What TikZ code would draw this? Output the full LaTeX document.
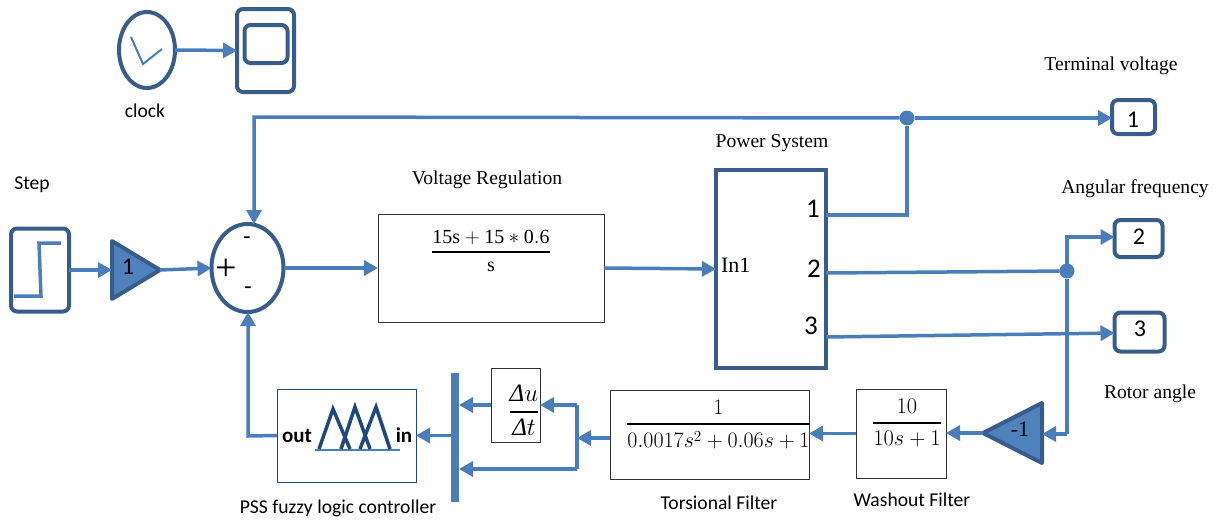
\documentclass[tikz,border=0pt]{standalone}
\usepackage{amsmath}
\usepackage{fontspec}
\setmainfont{Liberation Serif}
\newfontfamily\carlito{Carlito}
\usetikzlibrary{arrows.meta,shapes.geometric}
\definecolor{wire}{HTML}{4A7EBB}
\definecolor{edgeblue}{HTML}{385D8A}
\definecolor{fillblue}{HTML}{4F81BD}
\definecolor{fuzzy}{HTML}{1F497D}
\newcommand{\tffrac}[2]{{\displaystyle{#1\above 2pt #2}}}

\tikzset{
  every node/.style={outer sep=0pt, inner sep=0pt, font=\fontsize{20}{22}\selectfont},
  sans/.style={font=\fontsize{19.6}{22}\carlito},
  serif/.style={font=\fontsize{19.6}{22}\selectfont},
  port/.style={font=\fontsize{27}{29}\carlito},
  outnum/.style={font=\fontsize{24}{26}\carlito},
  sim/.style={draw=edgeblue, line width=4pt, rounded corners=6pt},
  tf/.style={draw=black!80, line width=1pt},
  gain/.style={isosceles triangle, isosceles triangle stretches,
    draw=edgeblue, fill=fillblue, line width=4pt, line join=round, minimum width=58pt, minimum height=48pt},
  wirel/.style={draw=wire, line width=3.5pt},
  link/.style={wirel, -{Triangle[length=14pt,width=15pt]}},
  dot/.style={circle, fill=wire, minimum size=15pt}
}

\begin{document}
\begin{tikzpicture}[x=1pt, y=-1pt]
  \useasboundingbox (0,0) rectangle (1223,522);
  \node[ellipse, sim, minimum width=56pt, minimum height=76pt] (clock) at (147,50) {};
  \node[sim, minimum width=57pt, minimum height=83pt] (scope) at (265.5,50.5) {};
  \node[sim, minimum width=43pt, minimum height=38pt] (screen) at (266,44) {};
  \node[sans] (clocklabel) at (145,111) {clock};
  \draw[wire, line width=2pt] (131,37) -- (143,64) -- (162,49);
  \draw[link] (clock.east) -- (scope.west);

  \node[sans] (steplabel) at (32,185) {Step};
  \node[sim, minimum width=58pt, minimum height=83pt] (step) at (40,270) {};
  \draw[wirel] (14,296) -- (41,296) -- (39,243) -- (61,243);
  \node[gain, anchor=apex] (gainone) at (160,270) {};
  \node[outnum] (gainonetext) at (128,267) {1};
  \node[ellipse, sim, minimum width=72pt, minimum height=88pt] (sum) at (247.5,268) {};
  \node[font=\fontsize{38}{38}\selectfont] (plus) at (226,270) {+};
  \node[font=\fontsize{24}{24}\carlito] (minusa) at (247,241) {-};
  \node[font=\fontsize{24}{24}\carlito] (minusb) at (248,291) {-};
  \draw[link] (step.east) -- (gainone.west);
  \draw[link] (gainone.apex) -- (sum.west);

  \node[serif] (voltlabel) at (487,180) {Voltage Regulation};
  \node[tf, minimum width=226pt, minimum height=108pt] (volt) at (491,268) {};
  \node (voltfrac) at (491,251) {$\tffrac{\mathrm{15s+15*0.6}}{\mathrm{s}}$};
  \draw[link] (sum.east) -- (volt.west);

  \node[serif] (powerlabel) at (772,143) {Power System};
  \node[draw=edgeblue, line width=4pt, minimum width=110pt, minimum height=198pt] (power) at (771,269) {};
  \node[font=\fontsize{22}{24}\selectfont, anchor=west] (inone) at (721,265) {In1};
  \node[port] (pone) at (813,209) {1};
  \node[port] (ptwo) at (814,269) {2};
  \node[port] (pthree) at (811,326) {3};
  \draw[link] (volt.east) -- (power.west);

  \node[serif] (termlabel) at (1111,66) {Terminal voltage};
  \node[serif] (anglabel) at (1135,189) {Angular frequency};
  \node[serif] (rotorlabel) at (1150,394) {Rotor angle};
  \node[sim, minimum width=43pt, minimum height=34pt] (outone) at (1133.5,117) {};
  \node[sim, minimum width=48pt, minimum height=37pt] (outtwo) at (1138.5,238.5) {};
  \node[sim, minimum width=50pt, minimum height=39pt] (outthree) at (1139.5,332) {};
  \node[outnum] (numone) at (1133,120) {1};
  \node[outnum] (numtwo) at (1139,237) {2};
  \node[outnum] (numthree) at (1140,329) {3};
  \node[dot] (joinone) at (907,118) {};
  \node[dot] (jointwo) at (1067,271) {};
  \coordinate (topleft) at (254,117);
  \coordinate (backturn) at (1067,434);

  \node[gain, shape border rotate=180, anchor=apex, minimum width=60pt, minimum height=59pt] (gainback) at (983,433) {};
  \node[font=\fontsize{22}{24}\selectfont] (gainbacktext) at (1020,429) {-1};
  \node[tf, minimum width=90pt, minimum height=89pt] (wash) at (901,433.5) {};
  \node[scale=1.08] (washfrac) at (907,423) {$\tffrac{10}{10s+1}$};
  \node[tf, minimum width=199pt, minimum height=89pt] (tors) at (709.5,435) {};
  \node[scale=1.06] (torsfrac) at (718.5,425) {$\tffrac{1}{0.0017s^2+0.06s+1}$};
  \node[sans] (washlabel) at (912,500) {Washout Filter};
  \node[sans] (torslabel) at (719,503) {Torsional Filter};
  \node[tf, minimum width=49pt, minimum height=74pt] (rate) at (515.5,405) {};
  \node[font=\fontsize{25}{27}\selectfont] (ratefrac) at (524,410) {$\tffrac{\mbox{\itshape Δ}u}{\mbox{\itshape Δ}t}$};
  \node[fill=wire, minimum width=8pt, minimum height=129pt] (bus) at (455,437.5) {};
  \node[draw=fuzzy, line width=1pt, minimum width=139pt, minimum height=93pt] (fuzz) at (346.5,435.5) {};
  \node[font=\fontsize{21}{23}\carlito\bfseries] (fuzzout) at (297,436) {out};
  \node[font=\fontsize{21}{23}\carlito\bfseries] (fuzzin) at (404,435) {in};
  \node[sans] (fuzzlabel) at (338,508) {PSS fuzzy logic controller};
  \draw[wire, line width=2pt] (315,450) -- (400,450);
  \draw[fuzzy, line width=3.5pt] (319,449) -- (333,409) -- (350,449);
  \draw[fuzzy, line width=3.5pt] (341,449) -- (355,407) -- (370,449);
  \draw[fuzzy, line width=3.5pt] (360,449) -- (376,407) -- (390,449);
  \coordinate (split) at (577,438);
  \coordinate (splitup) at (577,405);
  \coordinate (splitdown) at (577,469);
  \coordinate (fuzzturn) at (248,436);

  \draw[wirel] (power.east |- 0,215) -| (joinone);
  \draw[link] (joinone) -- (outone.west |- joinone);
  \draw[link] (joinone) -- (topleft) -- (sum.north -| topleft);
  \draw[wirel] (power.east |- 0,273) -- (jointwo);
  \draw[link] (jointwo) |- (outtwo.west |- 0,237);
  \draw[link] (power.east |- 0,337) -- (outthree.west |- 0,333);
  \draw[wirel] (jointwo) -- (backturn);
  \draw[link] (backturn) -- (gainback.east |- backturn);
  \draw[link] (gainback.apex) -- (wash.east |- gainback.apex);
  \draw[link] (wash.west) -- (tors.east |- wash.west);
  \draw[link] (tors.west |- split) -- (split);
  \draw[wirel] (splitdown) -- (splitup);
  \draw[link] (splitup) -- (rate.east |- splitup);
  \draw[link] (splitdown) -- (bus.east |- splitdown);
  \draw[link] (rate.west) -- (bus.east |- rate.west);
  \draw[link] (bus.west |- fuzz.west) -- (fuzz.east);
  \draw[link] (fuzz.west) -- (fuzzturn) -- (sum.south -| fuzzturn);
\end{tikzpicture}
\end{document}
